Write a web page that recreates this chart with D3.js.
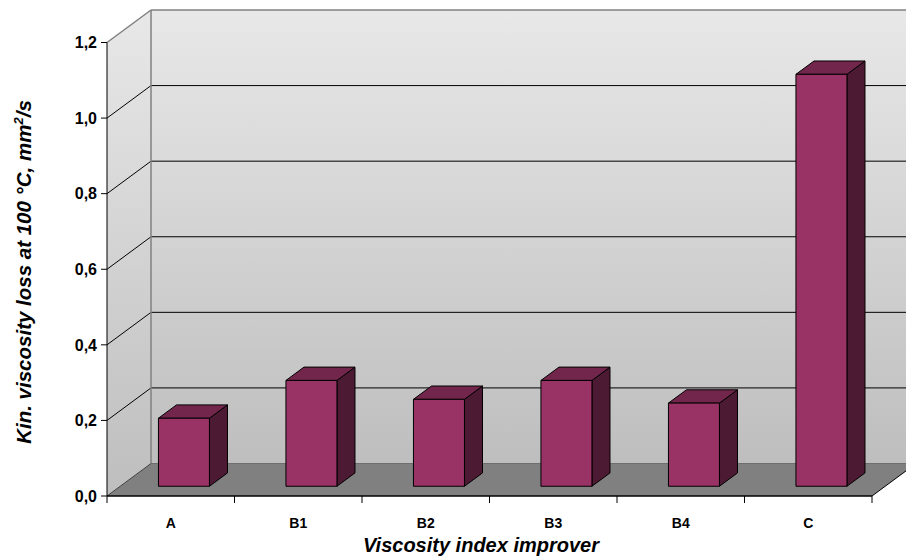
<!DOCTYPE html>
<html>
<head>
<meta charset="utf-8">
<script src="https://cdn.jsdelivr.net/npm/d3@7"></script>
<style>
  html, body { margin: 0; padding: 0; background: #fff; }
  svg { display: block; font-family: Arial, "Liberation Sans", sans-serif; }
</style>
</head>
<body>
<svg id="chart" width="906" height="560"></svg>
<script>
// Kinematic viscosity loss per viscosity index improver
const categories = ["A", "B1", "B2", "B3", "B4", "C"];
const values = [0.18, 0.28, 0.23, 0.28, 0.22, 1.09];
const yTicks = [0, 0.2, 0.4, 0.6, 0.8, 1.0, 1.2];
const yTickLabels = ["0,0", "0,2", "0,4", "0,6", "0,8", "1,0", "1,2"];

const W = 906, H = 560;
const svg = d3.select("#chart");

// Front plane of the 3-D box
const x0 = 107, x1 = 872;
const yBottom = 496, yTop = 42.5;
// Depth offset of the back wall
const DX = 44, DY = -32.5;

const x = d3.scaleBand().domain(categories).range([x0, x1]).paddingInner(0).paddingOuter(0);
const y = d3.scaleLinear().domain([0, 1.2]).range([yBottom, yTop]);

// projection of (screen x, value, depth fraction)
const P = (px, v, f) => [px + f * DX, y(v) + f * DY];

const defs = svg.append("defs");
const grad = defs.append("linearGradient").attr("id", "wallGrad")
  .attr("x1", 0).attr("y1", 0).attr("x2", 0).attr("y2", 1);
grad.append("stop").attr("offset", "0%").attr("stop-color", "#e8e8e8");
grad.append("stop").attr("offset", "100%").attr("stop-color", "#bebebe");

defs.append("clipPath").attr("id", "clipAll")
  .append("rect").attr("x", 0).attr("y", 0).attr("width", W).attr("height", H);

const g = svg.append("g").attr("clip-path", "url(#clipAll)");

const xBackL = x0 + DX, xBackR = x1 + DX;
const yBackTop = y(1.2) + DY, yBackBot = y(0) + DY;

// Back wall
g.append("rect")
  .attr("x", xBackL).attr("y", yBackTop)
  .attr("width", xBackR - xBackL).attr("height", yBackBot - yBackTop)
  .attr("fill", "url(#wallGrad)");

// Left side wall
g.append("polygon")
  .attr("points", [[x0, y(1.2)], [xBackL, yBackTop], [xBackL, yBackBot], [x0, y(0)]].map(p => p.join(",")).join(" "))
  .attr("fill", "url(#wallGrad)");

// Floor
g.append("polygon")
  .attr("points", [[x0, y(0)], [x1, y(0)], [xBackR, yBackBot], [xBackL, yBackBot]].map(p => p.join(",")).join(" "))
  .attr("fill", "#808080");

// Gridlines on back and side walls
yTicks.filter(v => v > 0 && v < 1.2).forEach(v => {
  g.append("line")
    .attr("x1", xBackL).attr("x2", xBackR)
    .attr("y1", y(v) + DY).attr("y2", y(v) + DY)
    .attr("stroke", "#000").attr("stroke-width", 1);
  g.append("line")
    .attr("x1", x0).attr("y1", y(v))
    .attr("x2", xBackL).attr("y2", y(v) + DY)
    .attr("stroke", "#000").attr("stroke-width", 1);
});

// Wall edges
g.append("line").attr("x1", xBackL).attr("x2", xBackR + 10).attr("y1", yBackTop).attr("y2", yBackTop)
  .attr("stroke", "#808080").attr("stroke-width", 1.5);
g.append("line").attr("x1", x0).attr("y1", y(1.2)).attr("x2", xBackL).attr("y2", yBackTop)
  .attr("stroke", "#808080").attr("stroke-width", 1.5);
g.append("line").attr("x1", xBackL).attr("x2", xBackL).attr("y1", yBackTop).attr("y2", yBackBot)
  .attr("stroke", "#808080").attr("stroke-width", 1.5);
g.append("line").attr("x1", xBackL).attr("x2", xBackR).attr("y1", yBackBot).attr("y2", yBackBot)
  .attr("stroke", "#6e6e6e").attr("stroke-width", 1);
g.append("line").attr("x1", x0).attr("y1", y(0)).attr("x2", xBackL).attr("y2", yBackBot)
  .attr("stroke", "#404040").attr("stroke-width", 1);
g.append("line").attr("x1", x1).attr("y1", y(0)).attr("x2", xBackR).attr("y2", yBackBot)
  .attr("stroke", "#000").attr("stroke-width", 1);

// Bars
const f0 = 0.3, f1 = 0.71;
const barFrac = 0.4;
const bw = x.bandwidth() * barFrac;
const pts = arr => arr.map(p => p.join(",")).join(" ");

const bars = g.append("g");
categories.forEach((c, i) => {
  const v = values[i];
  const cx = x(c) + x.bandwidth() / 2;
  const L = cx - bw / 2, R = cx + bw / 2;
  const fBL = P(L, 0, f0), fBR = P(R, 0, f0), fTL = P(L, v, f0), fTR = P(R, v, f0);
  const bTL = P(L, v, f1), bTR = P(R, v, f1), bBR = P(R, 0, f1);
  const bar = bars.append("g").attr("stroke", "#000").attr("stroke-width", 1).attr("stroke-linejoin", "round");
  bar.append("polygon").attr("points", pts([fBR, fTR, bTR, bBR])).attr("fill", "#4d1a33");
  bar.append("polygon").attr("points", pts([fTL, bTL, bTR, fTR])).attr("fill", "#73264c");
  bar.append("polygon").attr("points", pts([fBL, fTL, fTR, fBR])).attr("fill", "#993366");
});

// Y axis
svg.append("line").attr("x1", x0).attr("x2", x0).attr("y1", y(0)).attr("y2", y(1.2))
  .attr("stroke", "#000").attr("stroke-width", 1);
yTicks.forEach((v, i) => {
  svg.append("line").attr("x1", x0 - 6).attr("x2", x0).attr("y1", y(v)).attr("y2", y(v))
    .attr("stroke", "#000").attr("stroke-width", 1);
  svg.append("text").attr("x", x0 - 10).attr("y", y(v)).attr("dy", "0.36em")
    .attr("text-anchor", "end").attr("font-size", 16).attr("font-weight", "bold")
    .attr("fill", "#000").text(yTickLabels[i]);
});

// X axis
svg.append("line").attr("x1", x0).attr("x2", x1).attr("y1", y(0)).attr("y2", y(0))
  .attr("stroke", "#000").attr("stroke-width", 1.5);
[x0, ...categories.map(c => x(c) + x.bandwidth())].forEach(px => {
  svg.append("line").attr("x1", px).attr("x2", px).attr("y1", y(0)).attr("y2", y(0) + 7)
    .attr("stroke", "#000").attr("stroke-width", 1);
});
categories.forEach(c => {
  svg.append("text").attr("x", x(c) + x.bandwidth() / 2).attr("y", 528)
    .attr("text-anchor", "middle").attr("font-size", 14).attr("font-weight", "bold")
    .attr("fill", "#000").text(c);
});

// Axis titles
svg.append("text").attr("x", 481).attr("y", 552)
  .attr("text-anchor", "middle").attr("font-size", 20).attr("font-weight", "bold")
  .attr("font-style", "italic").attr("fill", "#000").text("Viscosity index improver");

const yt = svg.append("text")
  .attr("transform", "translate(31,272) rotate(-90)")
  .attr("text-anchor", "middle").attr("font-size", 20.5).attr("font-weight", "bold")
  .attr("font-style", "italic").attr("fill", "#000");
yt.append("tspan").text("Kin. viscosity loss at 100 °C, mm");
yt.append("tspan").attr("font-size", 13).attr("dy", -8).text("2");
yt.append("tspan").attr("dy", 8).text("/s");
</script>
</body>
</html>
